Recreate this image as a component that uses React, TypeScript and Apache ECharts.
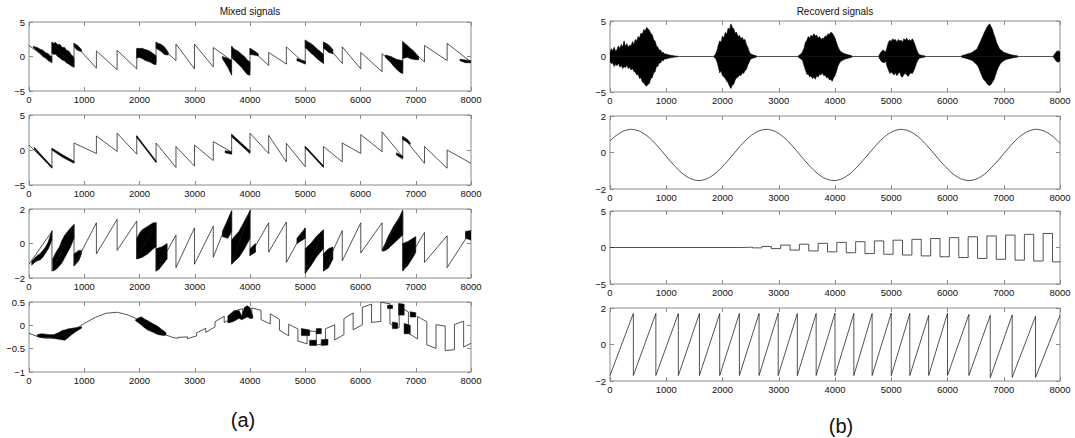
import React, { useEffect, useRef } from "react";
import * as echarts from "echarts";

const FONT = "'Liberation Sans', Arial, Helvetica, sans-serif";

// ---------- shared ----------
const xTickMax = 8000;
const xTickStep = 1000;

// sawtooth drop times (shared by mixtures and recovered sawtooth)
const toothTimes = [0, 415, 815, 1220, 1595, 1950, 2300, 2660, 2995, 3335, 3668, 4000, 4338, 4658, 5000, 5330, 5670, 6005, 6390, 6765, 7158, 7568, 8000];

// ---------- Mixed 1 ----------
const mixed1Start = [1.6, 2.0, 1.9, 0.8, 0.9, 1.0, 2.0, 1.8, 1.8, 1.3, 1.4, 1.2, 0.6, 1.4, 2.3, 2.1, 1.4, 0.6, 0.4, 2.1, 1.6, 1.9];
const mixed1End = [-0.9, -1.5, -1.7, -1.9, -1.8, -0.8, -0.6, -1.8, -1.5, -0.6, -2.0, -1.3, -1.1, -1.1, -1.0, -1.0, -1.8, -2.2, -2.0, -0.8, -0.6, -0.8];
const mixed1Bursts = [
  [[80, 1.5, 1.3], [120, 1.35, 1.0], [150, 1.3, 0.8], [200, 1.05, 0.5], [250, 0.9, 0.0], [300, 0.55, -0.2], [350, 0.4, -0.6], [380, 0.1, -0.7], [410, 0.0, -0.9]],
  [[415, 2.1, 0.5], [450, 1.9, 0.3], [480, 2.05, 0.35], [520, 1.7, 0.0], [560, 1.75, -0.2], [600, 1.3, -0.5], [640, 1.35, -0.6], [680, 0.9, -0.95], [720, 0.8, -1.1], [760, 0.3, -1.35], [800, 0.0, -1.5], [815, -0.3, -1.6]],
  [[815, 1.9, 1.5], [850, 1.75, 1.1], [880, 1.6, 0.9], [950, 1.0, 0.7]],
  [[1950, 1.2, -0.2], [2000, 1.15, -0.15], [2050, 1.2, -0.3], [2100, 1.0, -0.55], [2150, 0.9, -0.7], [2200, 0.7, -0.85], [2250, 0.4, -1.1], [2300, 0.1, -1.2]],
  [[2300, 2.1, 1.2], [2340, 1.9, 1.0], [2380, 1.8, 0.8], [2450, 1.4, 0.3], [2520, 0.6, 0.2]],
  [[3500, 0.0, -0.3], [3600, -0.3, -1.6], [3668, -0.6, -2.7]],
  [[3668, 1.5, -0.2], [3710, 1.1, -0.5], [3750, 0.9, -0.8], [3800, 0.7, -1.2], [3850, 0.3, -1.6], [3900, 0.0, -2.1], [3950, -0.5, -2.6], [4000, -0.8, -2.7]],
  [[4000, 1.2, 0.3], [4080, 0.8, 0.2], [4150, 0.4, 0.1]],
  [[4850, -0.3, -0.6], [5000, -0.7, -1.1]],
  [[5000, 2.4, 1.3], [5050, 2.1, 0.9], [5100, 1.9, 0.5], [5150, 1.6, 0.2], [5200, 1.2, -0.2], [5260, 0.8, -0.6], [5330, 0.3, -1.0]],
  [[5330, 2.1, 1.2], [5380, 1.9, 0.9], [5420, 1.7, 0.6], [5500, 1.0, 0.4]],
  [[6450, 0.2, -0.1], [6500, 0.1, -0.5], [6550, 0.0, -0.9], [6600, -0.2, -1.4], [6650, -0.4, -1.8], [6700, -0.5, -2.2], [6765, -0.6, -2.5]],
  [[6765, 2.2, -0.3], [6800, 1.9, -0.2], [6850, 1.6, -0.1], [6900, 1.2, -0.3], [6950, 0.9, -0.4], [7050, 0.0, -0.5]],
  [[7800, -0.4, -0.6], [7900, -0.5, -0.9], [8000, -0.6, -0.9]],
];

// ---------- Mixed 2 ----------
const mixed2Start = [0.7, 0.2, 1.0, 2.0, 2.4, 2.0, 1.0, 0.5, 0.7, 1.2, 2.2, 2.4, 2.1, 0.95, 0.5, 0.5, 1.0, 2.2, 2.6, 1.9, 0.5, 0.0];
const mixed2End = [-2.5, -1.8, -0.5, -0.2, -0.6, -1.7, -2.5, -2.3, -1.5, -0.3, -0.3, -0.5, -1.7, -2.4, -2.4, -1.7, -0.5, -0.24, -1.0, -1.9, -2.6, -1.9];
const mixed2Bursts = [
  [[100, 0.35, 0.1], [415, -2.35, -2.6]],
  [[415, 0.25, 0.0], [600, -0.65, -1.0], [815, -1.6, -1.9]],
  [[1950, 2.05, 1.8], [2300, -1.55, -1.8]],
  [[3550, -0.1, -0.4], [3668, -0.25, -0.6]],
  [[3668, 2.25, 1.9], [4000, -0.15, -0.5]],
  [[5000, 0.55, 0.3], [5330, -2.25, -2.5]],
  [[6650, -0.4, -0.7], [6765, -0.9, -1.3]],
  [[6765, 1.95, 1.5], [6850, 1.5, 1.1], [6900, 1.0, 0.8]],
];

// ---------- Mixed 3 ----------
const mixed3Start = [-1.2, -1.6, -1.3, -0.6, -0.4, -0.9, -1.6, -1.4, -1.2, -0.8, -1.2, -0.7, -0.5, -1.1, -1.7, -1.6, -1.0, -0.55, -0.4, -1.5, -1.1, -1.4];
const mixed3End = [0.7, 1.1, 1.2, 1.4, 1.3, 1.2, 0.5, 0.9, 1.0, 1.9, 1.9, 1.2, 1.25, 0.9, 0.7, 0.75, 1.2, 1.2, 1.8, 0.65, 0.45, 0.75];
const mixed3Bursts = [
  [[50, -1.05, -1.25], [100, -0.85, -1.1], [150, -0.7, -1.0], [200, -0.6, -0.95], [250, -0.4, -0.8], [300, -0.2, -0.55], [350, 0.1, -0.3], [415, 0.75, 0.2]],
  [[430, -0.9, -1.6], [490, -0.5, -1.5], [550, -0.2, -1.3], [600, 0.2, -1.1], [650, 0.5, -0.8], [700, 0.7, -0.5], [750, 0.9, -0.2], [815, 1.1, 0.3]],
  [[815, -0.6, -1.3], [860, -0.5, -1.15], [900, -0.4, -1.0], [950, -0.4, -0.6]],
  [[1950, 0.3, -0.9], [2000, 0.6, -0.85], [2050, 0.8, -0.8], [2100, 0.9, -0.7], [2150, 1.0, -0.6], [2200, 1.1, -0.45], [2250, 1.2, -0.3], [2300, 1.2, -0.2]],
  [[2300, -0.3, -1.6], [2350, -0.25, -1.5], [2400, -0.2, -1.3], [2500, 0.0, -0.9]],
  [[3500, 0.7, 0.4], [3600, 1.4, 0.3], [3668, 1.9, 0.7]],
  [[3668, 0.2, -1.2], [3730, 0.45, -1.0], [3800, 0.7, -0.8], [3850, 1.0, -0.55], [3900, 1.3, -0.3], [3950, 1.6, 0.0], [4000, 1.9, 0.3]],
  [[4000, -0.3, -0.7], [4100, 0.0, -0.5]],
  [[4850, 0.3, 0.0], [5000, 0.9, 0.3]],
  [[5000, -0.3, -1.75], [5050, -0.15, -1.5], [5100, 0.0, -1.3], [5150, 0.2, -1.05], [5200, 0.4, -0.8], [5260, 0.6, -0.55], [5330, 0.8, -0.3]],
  [[5330, -0.6, -1.6], [5420, -0.3, -1.4], [5500, -0.2, -0.9]],
  [[6400, -0.3, -0.45], [6450, 0.0, -0.4], [6500, 0.4, -0.3], [6550, 0.7, -0.15], [6600, 1.0, 0.0], [6650, 1.25, 0.15], [6700, 1.5, 0.3], [6765, 1.95, 0.5]],
  [[6765, 0.0, -1.6], [6800, 0.05, -1.45], [6850, 0.1, -1.3], [6900, 0.2, -1.05], [6950, 0.3, -0.8], [7000, 0.4, -0.5]],
  [[7900, 0.7, 0.3], [8000, 0.75, 0.2]],
];

// ---------- Mixed 4 ----------
const mixed4Line = [
  [0, -0.17], [200, -0.26], [400, -0.28], [600, -0.22], [800, -0.11], [1000, 0.04], [1200, 0.17], [1400, 0.26],
  [1600, 0.28], [1800, 0.22], [2000, 0.11], [2200, -0.04], [2400, -0.17], [2600, -0.26], [2700, -0.277],
  [2700, -0.257], [2867, -0.247], [2867, -0.287], [3033, -0.227],
  [3033, -0.162], [3200, -0.062], [3200, -0.152], [3367, -0.033],
  [3367, 0.077], [3533, 0.194], [3533, 0.064], [3700, 0.157],
  [3700, 0.305], [3867, 0.356], [3867, 0.19], [4033, 0.19],
  [4033, 0.373], [4200, 0.322], [4200, 0.122], [4367, 0.029],
  [4367, 0.246], [4533, 0.129], [4533, -0.105], [4700, -0.224],
  [4700, 0.023], [4867, -0.077], [4867, -0.337], [5033, -0.397],
  [5033, -0.121], [5200, -0.131], [5200, -0.423], [5367, -0.382],
  [5367, -0.073], [5533, 0.012], [5533, -0.314], [5700, -0.2],
  [5700, 0.143], [5867, 0.265], [5867, -0.095], [6033, 0.009],
  [6033, 0.386], [6200, 0.456], [6200, 0.062], [6367, 0.083],
  [6367, 0.495], [6533, 0.463], [6533, 0.033], [6700, -0.045],
  [6700, 0.4], [6867, 0.29], [6867, -0.17], [7033, -0.29],
  [7033, 0.188], [7200, 0.078], [7200, -0.418], [7367, -0.496],
  [7367, 0.015], [7533, -0.017], [7533, -0.543], [7700, -0.522],
  [7700, 0.018], [7867, 0.088], [7867, -0.466], [8000, -0.384],
];
const mixed4Bursts = [
  [[150, -0.2, -0.24], [225, -0.18, -0.26], [300, -0.19, -0.27], [375, -0.2, -0.26], [450, -0.2, -0.28], [550, -0.15, -0.3], [600, -0.11, -0.31], [650, -0.1, -0.32], [700, -0.08, -0.27], [750, -0.07, -0.22], [850, -0.05, -0.13], [950, -0.03, -0.06]],
  [[1930, 0.12, 0.1], [2000, 0.17, 0.04], [2040, 0.18, 0.0], [2080, 0.14, -0.04], [2150, 0.1, -0.1], [2250, 0.03, -0.15], [2300, 0.0, -0.18], [2350, -0.04, -0.2], [2450, -0.13, -0.22], [2480, -0.16, -0.2]],
  [[3600, 0.2, 0.05], [3700, 0.3, 0.08], [3800, 0.32, 0.15], [3850, 0.2, 0.12], [3900, 0.38, 0.15], [3950, 0.42, 0.18], [4000, 0.38, 0.15], [4050, 0.2, 0.15]],
  [[4930, -0.07, -0.22], [5080, -0.1, -0.22]],
  [[5080, -0.32, -0.43], [5200, -0.32, -0.43]],
  [[5200, -0.07, -0.18], [5290, -0.07, -0.18]],
  [[5290, -0.31, -0.43], [5410, -0.3, -0.42]],
  [[6490, 0.43, 0.36], [6580, 0.43, 0.36]],
  [[6580, 0.07, -0.07], [6670, 0.05, -0.07]],
  [[6690, 0.47, 0.22], [6790, 0.45, 0.22]],
  [[6790, 0.04, -0.18], [6900, 0.0, -0.18]],
  [[6900, 0.29, 0.18], [7000, 0.27, 0.18]],
];

// ---------- Recovered 1 (speech): [x, upper, lower] ----------
const speechBurstA = [
  [0, 0.6, -0.7], [25, 1.1, -1.0], [50, 0.8, -0.9], [75, 1.3, -1.4], [100, 0.7, -1.1], [125, 1.0, -1.3], [150, 1.5, -0.9], [175, 1.1, -1.5],
  [200, 1.7, -1.2], [225, 1.3, -1.7], [250, 2.2, -1.4], [275, 1.4, -1.6], [300, 1.8, -1.2], [325, 1.3, -1.7], [350, 1.6, -1.5], [375, 1.5, -1.9],
  [400, 2.1, -1.7], [425, 1.7, -2.1], [450, 2.4, -2.2], [475, 2.2, -2.6], [500, 2.8, -2.5], [525, 2.6, -3.1], [550, 3.3, -3.0], [575, 3.1, -3.6],
  [600, 3.8, -3.7], [625, 3.6, -4.0], [650, 4.1, -4.2], [675, 3.9, -3.9], [700, 3.7, -3.8], [725, 3.2, -3.1], [750, 3.1, -3.0], [775, 2.4, -2.3],
  [800, 2.2, -2.2], [825, 1.5, -1.4], [850, 1.3, -1.4], [875, 0.9, -0.9], [900, 0.9, -0.9], [925, 0.5, -0.5], [950, 0.6, -0.6], [975, 0.3, -0.3],
  [1000, 0.35, -0.35], [1050, 0.2, -0.2], [1100, 0.15, -0.15], [1150, 0.08, -0.08], [1200, 0.05, -0.05],
];
const speechBurstB = [
  [1850, 0.1, -0.1], [1875, 0.3, -0.25], [1900, 0.8, -0.7], [1925, 1.6, -1.4], [1950, 2.2, -2.3], [1975, 2.0, -2.0], [2000, 2.9, -2.7], [2025, 2.6, -2.9],
  [2050, 3.4, -3.1], [2075, 3.1, -3.5], [2100, 4.0, -3.7], [2125, 3.8, -4.2], [2150, 4.6, -4.5], [2175, 4.1, -4.0], [2200, 3.9, -3.9], [2225, 3.3, -3.3],
  [2250, 3.4, -3.0], [2275, 2.8, -2.9], [2300, 3.0, -2.6], [2325, 2.5, -2.7], [2350, 2.7, -2.3], [2375, 2.3, -2.4], [2400, 2.4, -2.0], [2425, 1.7, -1.8],
  [2450, 1.3, -1.2], [2475, 0.7, -0.8], [2500, 0.35, -0.35], [2550, 0.2, -0.2], [2600, 0.1, -0.1],
];
const speechBurstC = [
  [3350, 0.1, -0.1], [3400, 0.4, -0.4], [3425, 0.7, -0.6], [3450, 1.2, -1.3], [3475, 2.0, -1.9], [3500, 2.3, -2.5], [3525, 2.8, -2.5], [3550, 2.6, -2.9],
  [3575, 3.0, -2.7], [3600, 2.8, -3.1], [3625, 3.2, -2.9], [3650, 2.9, -3.2], [3675, 3.0, -2.7], [3700, 2.6, -2.9], [3725, 2.8, -2.5], [3750, 2.4, -2.6],
  [3775, 2.6, -2.3], [3800, 2.5, -2.7], [3825, 2.9, -2.6], [3850, 2.8, -3.0], [3875, 3.2, -2.9], [3900, 3.1, -3.3], [3925, 3.4, -3.2], [3950, 3.3, -3.5],
  [3975, 3.0, -3.0], [4000, 2.6, -2.7], [4025, 2.0, -2.1], [4050, 1.4, -1.4], [4075, 1.0, -1.0], [4100, 0.7, -0.7], [4150, 0.45, -0.45], [4200, 0.3, -0.3],
  [4250, 0.2, -0.2], [4300, 0.1, -0.1],
];
const speechBurstD = [
  [4780, 0.1, -0.1], [4800, 0.4, -0.4], [4825, 0.7, -0.7], [4850, 0.9, -0.8], [4875, 0.8, -0.9], [4900, 0.6, -0.6], [4925, 1.3, -1.4], [4950, 2.0, -1.9],
  [4975, 2.3, -2.4], [5000, 2.1, -2.2], [5025, 2.5, -2.4], [5050, 2.3, -2.6], [5075, 2.4, -2.3], [5100, 2.0, -2.7], [5125, 2.4, -2.4], [5150, 2.2, -2.2],
  [5175, 2.3, -2.8], [5200, 2.0, -2.9], [5225, 2.5, -2.5], [5250, 2.3, -2.4], [5275, 2.6, -2.6], [5300, 2.2, -2.8], [5325, 2.4, -2.5], [5350, 2.2, -2.3],
  [5375, 2.5, -2.4], [5400, 2.1, -2.0], [5425, 1.6, -1.5], [5450, 1.0, -0.9], [5475, 0.5, -0.5], [5500, 0.25, -0.25], [5550, 0.15, -0.15], [5600, 0.08, -0.08],
];
const speechBurstE = [
  [6250, 0.1, -0.1], [6300, 0.2, -0.2], [6350, 0.35, -0.3], [6400, 0.45, -0.45], [6450, 0.65, -0.6], [6475, 0.8, -0.85], [6500, 0.9, -1.0], [6525, 1.1, -1.2],
  [6550, 1.5, -1.5], [6575, 1.9, -2.0], [6600, 2.4, -2.5], [6625, 2.8, -3.0], [6650, 3.3, -3.3], [6675, 3.7, -3.5], [6700, 4.1, -3.8], [6725, 4.4, -4.0],
  [6750, 4.6, -4.1], [6775, 4.2, -3.9], [6800, 3.8, -3.6], [6825, 3.1, -3.3], [6850, 2.6, -2.7], [6875, 1.9, -2.1], [6900, 1.5, -1.6], [6925, 1.1, -1.2],
  [6950, 0.9, -0.9], [7000, 0.6, -0.6], [7050, 0.45, -0.4], [7100, 0.3, -0.3], [7150, 0.2, -0.2], [7200, 0.15, -0.15], [7250, 0.08, -0.08],
];
const speechBurstF = [[7880, 0.05, -0.05], [7910, 0.4, -0.4], [7940, 0.7, -0.7], [7970, 0.8, -0.8], [8000, 0.6, -0.6]];
const speechBaseline = [[0, 0], [8000, 0]];

// ---------- Recovered 2 (sine) ----------
const recSineX = [0, 80, 230, 380, 530, 680, 830, 980, 1130, 1280, 1430, 1580, 1730, 1880, 2030, 2180, 2330, 2480, 2630, 2780, 2930, 3080, 3230, 3380, 3530, 3680, 3830, 3980, 4130, 4280, 4430, 4580, 4730, 4880, 5030, 5180, 5330, 5480, 5630, 5780, 5930, 6080, 6230, 6380, 6530, 6680, 6830, 6980, 7130, 7280, 7430, 7580, 7730, 7880, 8000];
const recSineY = [0.63, 0.86, 1.16, 1.27, 1.16, 0.86, 0.4, -0.14, -0.67, -1.13, -1.43, -1.54, -1.43, -1.13, -0.67, -0.14, 0.4, 0.86, 1.16, 1.27, 1.16, 0.86, 0.4, -0.14, -0.67, -1.13, -1.43, -1.54, -1.43, -1.13, -0.67, -0.14, 0.4, 0.86, 1.16, 1.27, 1.16, 0.86, 0.4, -0.14, -0.67, -1.13, -1.43, -1.54, -1.43, -1.13, -0.67, -0.14, 0.4, 0.86, 1.16, 1.27, 1.16, 0.86, 0.5];

// ---------- Recovered 3 (square) ----------
const sqEdges = [2367, 2533, 2700, 2867, 3033, 3200, 3367, 3533, 3700, 3867, 4033, 4200, 4367, 4533, 4700, 4867, 5033, 5200, 5367, 5533, 5700, 5867, 6033, 6200, 6367, 6533, 6700, 6867, 7033, 7200, 7367, 7533, 7700, 7867];
const sqLevels = [0.05, -0.05, 0.15, -0.15, 0.33, -0.35, 0.45, -0.47, 0.57, -0.6, 0.7, -0.72, 0.8, -0.83, 0.9, -0.93, 1.0, -1.03, 1.12, -1.15, 1.23, -1.27, 1.35, -1.38, 1.47, -1.5, 1.58, -1.62, 1.7, -1.73, 1.8, -1.85, 1.92, -1.97];

// ---------- Recovered 4 (sawtooth) ----------
const sawDrops = [415, 815, 1215, 1590, 1950, 2300, 2650, 2990, 3330, 3665, 4000, 4335, 4660, 5000, 5330, 5665, 6000, 6380, 6760, 7150, 7565];
const sawTops = [1.7, 1.7, 1.7, 1.7, 1.7, 1.7, 1.7, 1.72, 1.7, 1.7, 1.72, 1.7, 1.7, 1.72, 1.7, 1.6, 1.72, 1.65, 1.6, 1.62, 1.55];
const sawBottoms = [-1.7, -1.7, -1.7, -1.7, -1.7, -1.7, -1.7, -1.7, -1.7, -1.7, -1.7, -1.7, -1.7, -1.7, -1.7, -1.7, -1.7, -1.7, -1.82, -1.8, -1.8];
const sawFirst = -1.7;
const sawLast = 1.6;

// ---------- builders ----------
function teethLine(start: number[], end: number[]) {
  const pts: number[][] = [];
  for (let i = 0; i < start.length; i++) {
    pts.push([toothTimes[i], start[i]]);
    pts.push([toothTimes[i + 1], end[i]]);
  }
  return pts;
}
function squareLine() {
  const pts: number[][] = [[0, 0], [sqEdges[0], 0]];
  for (let i = 0; i < sqEdges.length; i++) {
    const next = i + 1 < sqEdges.length ? sqEdges[i + 1] : 8000;
    pts.push([sqEdges[i], sqLevels[i]]);
    pts.push([next, sqLevels[i]]);
  }
  return pts;
}
function sawLine() {
  const pts: number[][] = [[0, sawFirst]];
  for (let i = 0; i < sawDrops.length; i++) {
    pts.push([sawDrops[i], sawTops[i]]);
    pts.push([sawDrops[i], sawBottoms[i]]);
  }
  pts.push([8000, sawLast]);
  return pts;
}

const gridBoxes = [
  { left: 29, top: 22, width: 442, height: 69 },
  { left: 29, top: 115, width: 442, height: 70 },
  { left: 29, top: 209, width: 442, height: 69 },
  { left: 29, top: 302, width: 442, height: 70 },
  { left: 610, top: 21, width: 450, height: 71 },
  { left: 610, top: 116, width: 450, height: 73 },
  { left: 610, top: 211, width: 450, height: 73 },
  { left: 610, top: 308, width: 450, height: 73 },
];
const yRanges = [
  [-5, 5, 5], [-5, 5, 5], [-2, 2, 2], [-1, 0.5, 0.5],
  [-5, 5, 5], [-2, 2, 2], [-5, 5, 5], [-2, 2, 2],
];

const LINE = "#1a1a1a";
const FRAME = "#8a8a8a";

function fmtY(v: number) {
  return v < 0 ? "\u2212" + String(Math.abs(v)) : String(v);
}
function fmtX(v: number) {
  return String(v);
}

function lineSeries(data: number[][], gi: number, smooth: number | boolean = false) {
  return {
    type: "line",
    xAxisIndex: gi * 2,
    yAxisIndex: gi * 2,
    data,
    showSymbol: false,
    symbol: "none",
    smooth,
    silent: true,
    clip: true,
    lineStyle: { color: LINE, width: 0.75 },
  };
}

function burstSeries(bursts: number[][][], gi: number) {
  return {
    type: "custom",
    xAxisIndex: gi * 2,
    yAxisIndex: gi * 2,
    silent: true,
    clip: true,
    data: bursts.map((b) => [b[0][0], b[0][1]]),
    renderItem: (params: any, api: any) => {
      const b = bursts[params.dataIndex];
      const top = b.map((p) => api.coord([p[0], p[1]]));
      const bot = b
        .slice()
        .reverse()
        .map((p) => api.coord([p[0], p[2]]));
      return {
        type: "polygon",
        shape: { points: top.concat(bot) },
        style: { fill: "#000", stroke: "#000", lineWidth: 0.6 },
      };
    },
  };
}

export default function App() {
  const ref = useRef<HTMLDivElement>(null);
  useEffect(() => {
    if (!ref.current) return;
    const chart = echarts.init(ref.current, undefined, { renderer: "svg" });

    const grid = gridBoxes.map((g) => ({ ...g, show: true, borderColor: FRAME, borderWidth: 1, backgroundColor: "#fff" }));
    const xAxis: any[] = [];
    const yAxis: any[] = [];
    gridBoxes.forEach((_, i) => {
      const tick = { inside: true, length: 4, lineStyle: { color: FRAME, width: 1 } };
      const noLine = { show: false, onZero: false };
      xAxis.push({
        type: "value", gridIndex: i, min: 0, max: xTickMax, interval: xTickStep, position: "bottom",
        axisLine: noLine, axisTick: tick, splitLine: { show: false },
        axisLabel: { fontSize: 9.5, color: "#111", margin: 3, fontFamily: FONT, formatter: fmtX },
      });
      xAxis.push({
        type: "value", gridIndex: i, min: 0, max: xTickMax, interval: xTickStep, position: "top",
        axisLine: noLine, axisTick: tick, splitLine: { show: false }, axisLabel: { show: false },
      });
      const [mn, mx, iv] = yRanges[i];
      yAxis.push({
        type: "value", gridIndex: i, min: mn, max: mx, interval: iv, position: "left",
        axisLine: noLine, axisTick: tick, splitLine: { show: false },
        axisLabel: { fontSize: 9.5, color: "#111", margin: 4, fontFamily: FONT, formatter: fmtY },
      });
      yAxis.push({
        type: "value", gridIndex: i, min: mn, max: mx, interval: iv, position: "right",
        axisLine: noLine, axisTick: tick, splitLine: { show: false }, axisLabel: { show: false },
      });
    });

    const speechBursts = [speechBurstA, speechBurstB, speechBurstC, speechBurstD, speechBurstE, speechBurstF];

    const series: any[] = [
      lineSeries(teethLine(mixed1Start, mixed1End), 0),
      burstSeries(mixed1Bursts, 0),
      lineSeries(teethLine(mixed2Start, mixed2End), 1),
      burstSeries(mixed2Bursts, 1),
      lineSeries(teethLine(mixed3Start, mixed3End), 2),
      burstSeries(mixed3Bursts, 2),
      lineSeries(mixed4Line, 3),
      burstSeries(mixed4Bursts, 3),
      lineSeries(speechBaseline, 4),
      burstSeries(speechBursts, 4),
      lineSeries(recSineX.map((x, i) => [x, recSineY[i]]), 5, 0.3),
      lineSeries(squareLine(), 6),
      lineSeries(sawLine(), 7),
    ];

    chart.setOption({
      animation: false,
      backgroundColor: "#fff",
      grid,
      xAxis,
      yAxis,
      series,
      graphic: [
        { type: "text", x: 250, y: 11, style: { text: "Mixed signals", font: `10px ${FONT}`, fill: "#111", textAlign: "center", textVerticalAlign: "middle" } },
        { type: "text", x: 835, y: 11, style: { text: "Recoverd signals", font: `10px ${FONT}`, fill: "#111", textAlign: "center", textVerticalAlign: "middle" } },
        { type: "text", x: 243, y: 420, style: { text: "(a)", font: `20px ${FONT}`, fill: "#111", textAlign: "center", textVerticalAlign: "middle" } },
        { type: "text", x: 841, y: 426, style: { text: "(b)", font: `20px ${FONT}`, fill: "#111", textAlign: "center", textVerticalAlign: "middle" } },
      ],
    });
    return () => chart.dispose();
  }, []);
  return <div ref={ref} style={{ position: "absolute", left: 0, top: 0, width: 1075, height: 438 }} />;
}
